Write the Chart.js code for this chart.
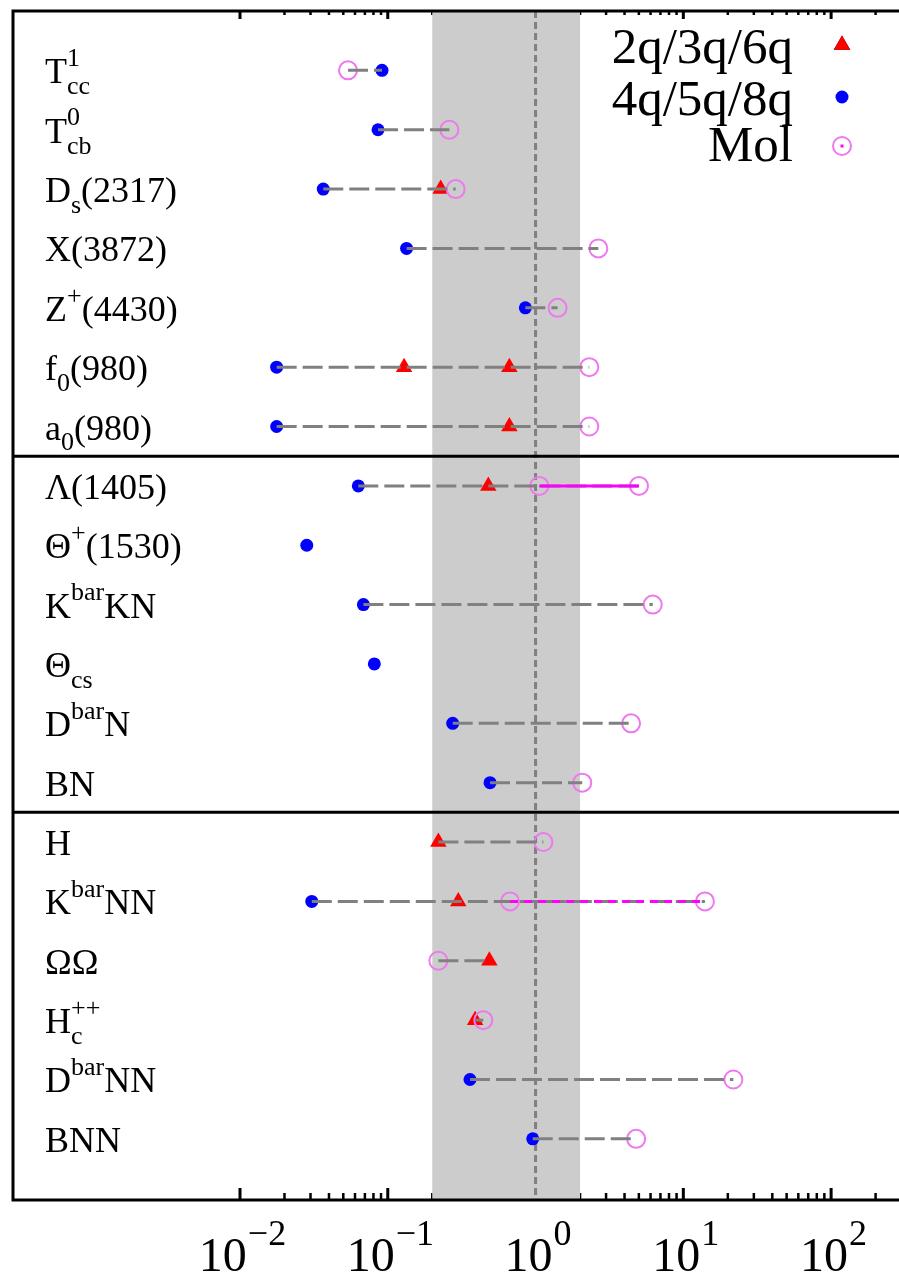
<!DOCTYPE html>
<html>
<head>
<meta charset="utf-8">
<script src="https://cdn.jsdelivr.net/npm/chart.js@4.4.1/dist/chart.umd.min.js"></script>
<style>
  html, body { margin: 0; padding: 0; background: #fff; }
  #wrap { width: 899px; height: 1275px; position: relative; }
</style>
</head>
<body>
<div id="wrap"><canvas id="chart"></canvas></div>
<script>
// rows, top to bottom ("_{}" = subscript, "^{}" = superscript)
const categories = [
  "T^{1}_{cc}", "T^{0}_{cb}", "D_{s}(2317)", "X(3872)", "Z^{+}(4430)", "f_{0}(980)", "a_{0}(980)",
  "Λ(1405)", "Θ^{+}(1530)", "K^{bar}KN", "Θ_{cs}", "D^{bar}N", "BN",
  "H", "K^{bar}NN", "ΩΩ", "H_{c}^{++}", "D^{bar}NN", "BNN"
];

// 2q/3q/6q
const compactValues = [null, null, 0.228, null, null, 0.129, 0.665, 0.479, null, null, null, null, null, 0.220, 0.300, 0.487, 0.390, null, null];
const compactSecond = [null, null, null, null, null, 0.665, null, null, null, null, null, null, null, null, null, null, null, null, null];
// 4q/5q/8q
const multiquarkValues = [0.0914, 0.0859, 0.0366, 0.134, 0.853, 0.0177, 0.0177, 0.0632, 0.0283, 0.0684, 0.0811, 0.275, 0.492, null, 0.0306, null, null, 0.360, 0.957];
// Mol
const moleculeValues = [0.0538, 0.261, 0.288, 2.66, 1.41, 2.31, 2.31, 1.06, null, 6.21, null, 4.43, 2.07, 1.13, 0.672, 0.220, 0.443, 21.8, 4.79];
const moleculeSecond = [null, null, null, null, null, null, null, 5.01, null, null, null, null, null, null, 14.0, null, null, null, null];

const seriesNames = ["2q/3q/6q", "4q/5q/8q", "Mol"];
const xTickValues = [0.01, 0.1, 1, 10, 100];
const xTickExponents = ["-2", "-1", "0", "1", "2"];
const bandRange = [0.2, 2];
const groupBreaks = [6.5, 12.5];
const dashedSpreadRows = ["K^{bar}NN"];

const SERIF = '"Liberation Serif", "DejaVu Serif", serif';
const GRAY = "#808080";
const RED = "#ff0000";
const BLUE = "#0000ff";
const PINK = "rgb(238,120,238)";

function toPoints(arr) {
  const pts = [];
  arr.forEach((v, i) => { if (v != null) pts.push({ x: v, y: i }); });
  return pts;
}

// grey connectors across each row
const connectorSets = [];
categories.forEach((c, i) => {
  const vals = [compactValues[i], compactSecond[i], multiquarkValues[i], moleculeValues[i], moleculeSecond[i]].filter(v => v != null);
  if (vals.length < 2) return;
  connectorSets.push({
    type: "line",
    data: [{ x: Math.min(...vals), y: i }, { x: Math.max(...vals), y: i }],
    borderColor: GRAY, borderWidth: 3, borderDash: [20, 6],
    pointRadius: 0, showLine: true, order: 2
  });
});

// magenta spread between the two molecular estimates
const spreadSets = [];
categories.forEach((c, i) => {
  if (moleculeSecond[i] == null) return;
  spreadSets.push({
    type: "line",
    data: [{ x: moleculeValues[i], y: i }, { x: moleculeSecond[i], y: i }],
    borderColor: "#ff00ff", borderWidth: 3,
    borderDash: dashedSpreadRows.includes(c) ? [8, 6] : [],
    pointRadius: 0, showLine: true, order: 1
  });
});

function drawRich(ctx, str, x, y, size) {
  const re = /([_^])\{([^}]*)\}|([^_^]+)/g;
  const small = Math.round(size * 0.72);
  let m, cx = x, scriptStart = null, scriptEnd = x, lastScript = null;
  while ((m = re.exec(str)) !== null) {
    if (m[3] !== undefined) {
      cx = Math.max(cx, scriptEnd);
      ctx.font = size + "px " + SERIF;
      ctx.fillText(m[3], cx, y);
      cx += ctx.measureText(m[3]).width;
      scriptStart = null; lastScript = null; scriptEnd = cx;
    } else {
      let sx = cx;
      if (lastScript && lastScript !== m[1]) sx = scriptStart; // stack sub & sup
      ctx.font = small + "px " + SERIF;
      const dy = m[1] === "_" ? size * 0.3 : -size * 0.48;
      ctx.fillText(m[2], sx, y + dy);
      const end = sx + ctx.measureText(m[2]).width;
      scriptStart = sx; lastScript = m[1];
      scriptEnd = Math.max(scriptEnd, end);
      cx = scriptEnd;
    }
  }
}

function drawMarker(ctx, kind, x, y) {
  ctx.save();
  if (kind === 0) {
    Chart.helpers.drawPoint(ctx, { pointStyle: "triangle", radius: 9.5, borderWidth: 0 }, x, y);
    ctx.fillStyle = RED; ctx.fill();
  } else if (kind === 1) {
    ctx.beginPath(); ctx.arc(x, y, 6.5, 0, Math.PI * 2); ctx.fillStyle = BLUE; ctx.fill();
  } else {
    ctx.beginPath(); ctx.arc(x, y, 9, 0, Math.PI * 2); ctx.lineWidth = 2; ctx.strokeStyle = PINK; ctx.stroke();
    ctx.fillStyle = "#ff00ff"; ctx.fillRect(x - 1.5, y - 1.5, 3, 3);
  }
  ctx.restore();
}

const decorations = {
  id: "decorations",
  beforeDatasetsDraw(chart) {
    const { ctx, chartArea: a, scales: { x } } = chart;
    ctx.save();
    ctx.strokeStyle = "#000";
    for (let e = -2; e <= 2; e++) {
      for (let k = 1; k <= 9; k++) {
        const v = k * Math.pow(10, e);
        if (v > x.max) continue;
        const px = x.getPixelForValue(v);
        const major = k === 1;
        ctx.lineWidth = major ? 3 : 2.5;
        ctx.beginPath();
        ctx.moveTo(px, a.bottom); ctx.lineTo(px, a.bottom - (major ? 12 : 7));
        ctx.moveTo(px, a.top); ctx.lineTo(px, a.top + (major ? 8 : 4));
        ctx.stroke();
      }
    }
    const x0 = x.getPixelForValue(bandRange[0]);
    const x1 = x.getPixelForValue(bandRange[1]);
    ctx.fillStyle = "#cccccc";
    ctx.fillRect(x0, a.top, x1 - x0, a.bottom - a.top);
    ctx.restore();
  },
  afterDatasetsDraw(chart) {
    const { ctx, chartArea: a, scales: { x, y } } = chart;
    ctx.save();
    // frame and group separators
    ctx.strokeStyle = "#000";
    ctx.lineWidth = 3;
    ctx.beginPath();
    ctx.moveTo(chart.width + 2, a.top); ctx.lineTo(a.left, a.top);
    ctx.lineTo(a.left, a.bottom); ctx.lineTo(chart.width + 2, a.bottom);
    groupBreaks.forEach(g => {
      const py = y.getPixelForValue(g);
      ctx.moveTo(a.left, py); ctx.lineTo(chart.width + 2, py);
    });
    ctx.stroke();

    // row labels
    ctx.fillStyle = "#000";
    ctx.textBaseline = "alphabetic";
    ctx.textAlign = "left";
    categories.forEach((c, i) => {
      drawRich(ctx, c, 45, y.getPixelForValue(i) + 13, 36);
    });

    // legend
    const legY = [63, 115, 161];
    const markY = [45, 97, 146];
    ctx.font = "51px " + SERIF;
    ctx.textAlign = "right";
    seriesNames.forEach((n, i) => {
      ctx.fillStyle = "#000";
      ctx.fillText(n, 793, legY[i]);
      drawMarker(ctx, i, 842, markY[i]);
    });

    // x tick labels 10^n
    ctx.textAlign = "left";
    xTickValues.forEach((v, i) => {
      const px = x.getPixelForValue(v);
      ctx.font = "48px " + SERIF;
      const w1 = ctx.measureText("10").width;
      ctx.font = "36px " + SERIF;
      const sup = xTickExponents[i].replace("-", "\u2212");
      const w2 = ctx.measureText(sup).width;
      const sx = px - (w1 + w2) / 2 + 2;
      ctx.font = "48px " + SERIF;
      ctx.fillText("10", sx, 1271);
      ctx.font = "36px " + SERIF;
      ctx.fillText(sup, sx + w1 + 1, 1245);
    });
    ctx.restore();
  }
};

new Chart(document.getElementById("chart"), {
  type: "scatter",
  data: {
    datasets: [
      {
        type: "line",
        data: [{ x: 1, y: -1 }, { x: 1, y: 19.03 }],
        borderColor: GRAY, borderWidth: 3, borderDash: [7, 4],
        pointRadius: 0, showLine: true, order: 6
      },
      {
        label: seriesNames[0],
        data: toPoints(compactValues).concat(toPoints(compactSecond)),
        pointStyle: "triangle", pointRadius: 9.5, pointBorderWidth: 0,
        backgroundColor: RED, borderColor: RED, order: 5
      },
      {
        label: seriesNames[1],
        data: toPoints(multiquarkValues),
        pointStyle: "circle", pointRadius: 6.5, pointBorderWidth: 0,
        backgroundColor: BLUE, borderColor: BLUE, order: 4
      },
      {
        label: seriesNames[2],
        data: toPoints(moleculeValues).concat(toPoints(moleculeSecond)),
        pointStyle: "circle", pointRadius: 9, pointBorderWidth: 2,
        backgroundColor: "rgba(0,0,0,0)", borderColor: PINK, order: 3
      },
      ...connectorSets,
      ...spreadSets
    ]
  },
  options: {
    responsive: true,
    maintainAspectRatio: false,
    animation: false,
    layout: { autoPadding: false, padding: { left: 13, top: 11, right: 0, bottom: 75 } },
    plugins: {
      legend: { display: false },
      tooltip: { enabled: false }
    },
    scales: {
      x: { type: "logarithmic", min: 2.91e-4, max: 288, display: false },
      y: { type: "linear", min: -1, max: 19.03, reverse: true, display: false }
    }
  },
  plugins: [decorations]
});
</script>
</body>
</html>
